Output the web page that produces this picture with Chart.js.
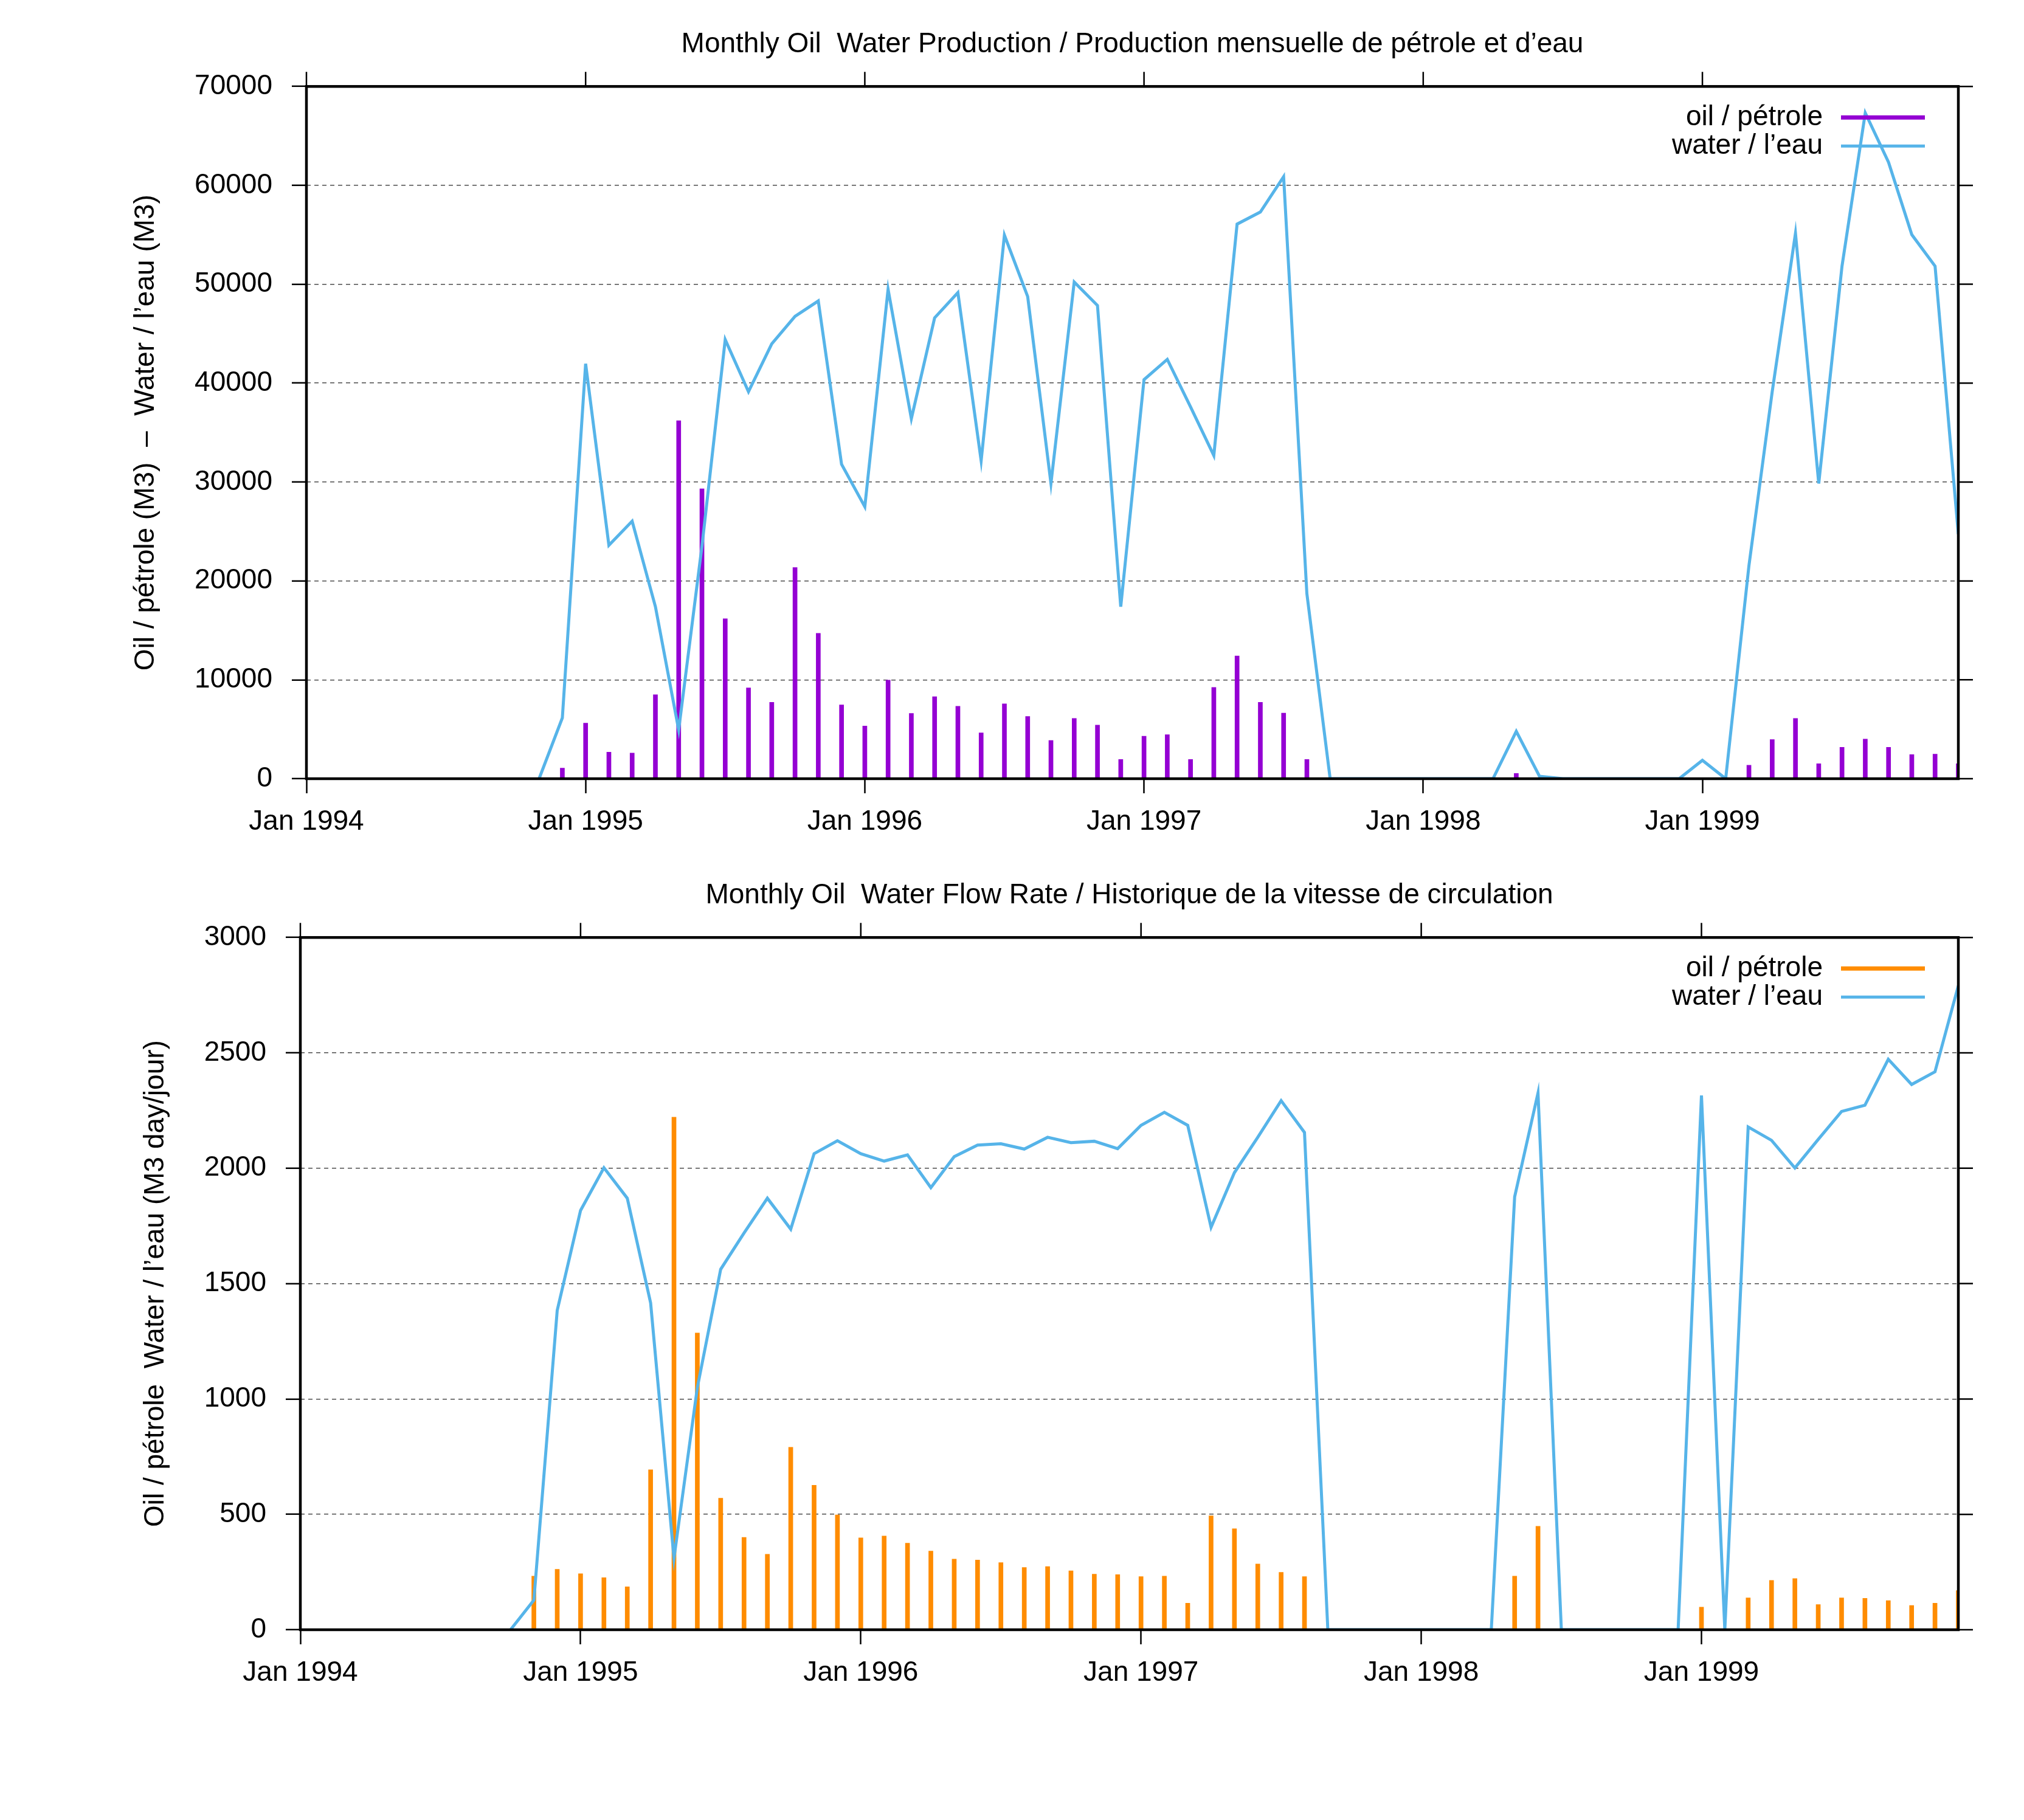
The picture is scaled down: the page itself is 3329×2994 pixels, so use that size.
<!DOCTYPE html>
<html lang="fr">
<head>
<meta charset="UTF-8">
<title>Monthly Oil Water Production / Flow Rate</title>
<script src="https://cdn.jsdelivr.net/npm/chart.js@4"></script>
<style>
  body { margin: 0; background: #fff; }
  canvas.plot { position: absolute; left: 0; }
</style>
</head>
<body>
<canvas id="prodChart" class="plot" width="3329" height="1400" style="top:0"></canvas>
<canvas id="rateChart" class="plot" width="3329" height="1594" style="top:1400px"></canvas>
<script>
// months counted from Jan 1994 (index 0) to Dec 1999 (index 71), one year per row
const xTickMonths = [0, 12, 24, 36, 48, 60];
const xTickLabels = ['Jan 1994', 'Jan 1995', 'Jan 1996', 'Jan 1997', 'Jan 1998', 'Jan 1999'];
const _ = null;

// monthly production (M3)
const prodOil = [
  _, _, _, _, _, _, _, _, _, _, _, 1075,
  5620, 2690, 2590, 8500, 36200, 29310, 16170, 9180, 7720, 21350, 14700, 7470,
  5320, 9970, 6600, 8300, 7330, 4640, 7570, 6300, 3860, 6100, 5420, 1950,
  4300, 4450, 1950, 9230, 12410, 7720, 6640, 1950, _, _, _, _,
  _, _, _, _, 540, _, _, _, _, _, _, _,
  _, _, 1370, 3960, 6100, 1510, 3180, 4000, 3180, 2440, 2490, 1510
];
const prodWater = [
  _, _, _, _, _, _, _, _, _, _, 0, 6150,
  41960, 23600, 26040, 17390, 4930, 23500, 44400, 39130, 43970, 46750, 48310, 31800,
  27500, 49490, 36400, 46600, 49150, 32150, 54960, 48750, 29850, 50220, 47850, 17390,
  40350, 42400, 37600, 32680, 56080, 57300, 60870, 18710, 0, 0, 0, 0,
  0, 0, 0, 0, 4790, 240, 0, 0, 0, 0, 0, 0,
  1860, 0, 21540, 39130, 55150, 29850, 51830, 67320, 62330, 55010, 51830, 24720
];

// monthly flow rate (M3 day/jour)
const rateOil = [
  _, _, _, _, _, _, _, _, _, _, 232, 262,
  243, 226, 186, 693, 2221, 1286, 570, 400, 327, 791, 626, 498,
  398, 406, 375, 341, 306, 302, 291, 270, 274, 255, 241, 239,
  230, 232, 115, 494, 438, 285, 249, 230, _, _, _, _,
  _, _, _, _, 232, 448, _, _, _, _, _, _,
  98, _, 138, 214, 222, 109, 138, 136, 126, 105, 115, 170
];
const rateWater = [
  _, _, _, _, _, _, _, _, _, 0, 128, 1384,
  1817, 2002, 1870, 1416, 310, 1049, 1562, 1719, 1870, 1736, 2063, 2119,
  2063, 2031, 2058, 1916, 2050, 2100, 2106, 2083, 2134, 2111, 2117, 2085,
  2186, 2242, 2186, 1744, 1981, 2134, 2293, 2155, 0, 0, 0, 0,
  0, 0, 0, 0, 1876, 2326, 0, 0, 0, 0, 0, 0,
  2315, 0, 2179, 2121, 2001, 2125, 2246, 2273, 2472, 2363, 2418, 2791
];

const oilLabel = 'oil / pétrole';
const waterLabel = 'water / l’eau';

Chart.defaults.font.family = "'Liberation Sans', Arial, sans-serif";
Chart.defaults.font.size = 46;
Chart.defaults.color = '#000';

const toPoints = arr => arr.map((y, i) => ({ x: i, y: y })).filter(p => p.y !== null);
const toLine = arr => arr.map((y, i) => ({ x: i, y: y }));

// gnuplot-like frame, mirrored ticks and key (text then sample)
const framePlugin = {
  id: 'frame',
  afterDatasetsDraw(chart) {
    const { ctx, chartArea: a, scales } = chart;
    ctx.save();
    ctx.strokeStyle = '#000';
    ctx.lineWidth = 2.5;
    ctx.beginPath();
    scales.x.ticks.forEach(t => {
      const px = scales.x.getPixelForValue(t.value);
      ctx.moveTo(px, a.top); ctx.lineTo(px, a.top - 24);
    });
    scales.y.ticks.forEach(t => {
      const py = scales.y.getPixelForValue(t.value);
      ctx.moveTo(a.right, py); ctx.lineTo(a.right + 24, py);
    });
    ctx.stroke();
    ctx.lineWidth = 4.5;
    ctx.strokeRect(a.left, a.top, a.right - a.left, a.bottom - a.top);

    ctx.font = "46px 'Liberation Sans', Arial, sans-serif";
    ctx.textAlign = 'right';
    ctx.textBaseline = 'middle';
    ctx.fillStyle = '#000';
    chart.data.datasets.forEach((ds, i) => {
      const y = a.top + 51 + i * 47;
      ctx.fillText(ds.label, 2998, y);
      ctx.strokeStyle = ds.borderColor;
      ctx.lineWidth = ds.keyWidth;
      ctx.beginPath();
      ctx.moveTo(3028, y); ctx.lineTo(3166, y);
      ctx.stroke();
    });
    ctx.restore();
  }
};

function makeChart(id, cfg) {
  return new Chart(document.getElementById(id), {
    type: 'bar',
    data: {
      datasets: [
        { type: 'bar', label: oilLabel, data: toPoints(cfg.oil), backgroundColor: cfg.oilColor,
          borderColor: cfg.oilColor, borderWidth: 0, barThickness: 7, order: 1, keyWidth: 7 },
        { type: 'line', label: waterLabel, data: toLine(cfg.water), borderColor: '#56b4e9',
          borderWidth: 5, pointRadius: 0, tension: 0, fill: false, order: 0, keyWidth: 5 }
      ]
    },
    options: {
      responsive: false,
      devicePixelRatio: 1,
      animation: false,
      layout: { padding: { left: 0, right: 108, top: 0, bottom: 0 } },
      plugins: {
        legend: { display: false },
        tooltip: { enabled: false },
        title: {
          display: true, text: cfg.title, fullSize: false,
          padding: { top: 46, bottom: 41 },
          font: { size: 46, weight: 'normal' }, color: '#000'
        }
      },
      scales: {
        x: {
          type: 'linear', min: 0, max: 71, offset: false,
          afterBuildTicks: s => { s.ticks = xTickMonths.map(v => ({ value: v })); },
          afterFit: s => { s.height = cfg.xHeight; },
          ticks: { padding: 20, maxRotation: 0, autoSkip: false,
            callback: v => xTickLabels[xTickMonths.indexOf(v)] },
          grid: { drawOnChartArea: false, drawTicks: true, tickLength: 24, tickWidth: 2.5,
            tickColor: '#000', offset: false },
          border: { display: false }
        },
        y: {
          min: 0, max: cfg.yMax,
          afterFit: s => { s.width = cfg.yWidth; },
          ticks: { stepSize: cfg.yStep, padding: 32, callback: v => String(v) },
          grid: { color: 'rgba(0,0,0,0.7)', lineWidth: 1.6, tickLength: 24, tickWidth: 2.5,
            tickColor: '#000' },
          border: { display: false, dash: [7, 6] },
          title: { display: true, text: cfg.yTitle, padding: { top: cfg.yTitlePad, bottom: 0 },
            font: { size: 46 } }
        }
      }
    },
    plugins: [framePlugin]
  });
}

makeChart('prodChart', {
  title: 'Monthly Oil  Water Production / Production mensuelle de pétrole et d’eau',
  oil: prodOil, water: prodWater, oilColor: '#9400d3',
  yMax: 70000, yStep: 10000, yWidth: 504, xHeight: 119,
  yTitle: 'Oil / pétrole (M3)  –  Water / l’eau (M3)', yTitlePad: 213
});

makeChart('rateChart', {
  title: 'Monthly Oil  Water Flow Rate / Historique de la vitesse de circulation',
  oil: rateOil, water: rateWater, oilColor: '#ff8c00',
  yMax: 3000, yStep: 500, yWidth: 494, xHeight: 313,
  yTitle: 'Oil / pétrole  Water / l’eau (M3 day/jour)', yTitlePad: 229
});
</script>
</body>
</html>
